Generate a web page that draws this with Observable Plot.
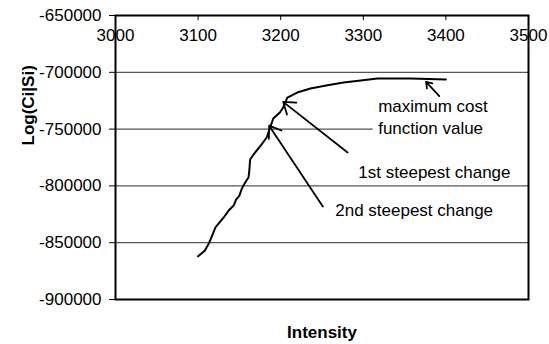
<!DOCTYPE html>
<html>
<head>
<meta charset="utf-8">
<script src="https://cdn.jsdelivr.net/npm/d3@7"></script>
<script src="https://cdn.jsdelivr.net/npm/@observablehq/plot@0.6"></script>
<style>
  html, body { margin: 0; padding: 0; background: #fff; }
  #chart { width: 549px; height: 344px; }
</style>
</head>
<body>
<div id="chart"></div>
<script>
// Cost function trace: intensity vs. log-likelihood
const intensity = [3100, 3108, 3113, 3117, 3121, 3126, 3131, 3137, 3143, 3146,
  3150, 3153, 3157, 3161, 3162, 3163, 3168, 3176, 3183, 3186,
  3191, 3199, 3203, 3208, 3220, 3236, 3255, 3276, 3297, 3317,
  3337, 3357, 3379, 3400];
const logCost = [-862000, -857000, -850700, -843700, -836600, -832200, -827800, -821700, -817300, -812000,
  -808500, -802300, -797000, -792600, -786500, -776800, -771500, -764400, -757400, -751200,
  -740700, -735400, -731000, -722200, -717800, -714300, -711600, -709000, -707200, -705500,
  -705500, -705500, -706000, -706300];

// Axis ticks and gridlines
const xTicks = [3000, 3100, 3200, 3300, 3400, 3500];
const yTicks = [-650000, -700000, -750000, -800000, -850000, -900000];
const gridValues = [-700000, -750000, -800000, -850000];

// Callout text (left edge, vertical centre)
const noteText = ["maximum cost", "function value", "1st steepest change", "2nd steepest change"];
const noteX = [3318, 3318, 3294, 3266];
const noteY = [-730100, -749500, -788200, -821700];

// Callout arrows: tail -> head
const arrowX1 = [3392, 3281, 3251];
const arrowY1 = [-721000, -770600, -818100];
const arrowX2 = [3376, 3203, 3186];
const arrowY2 = [-708500, -726000, -747000];

// White backing of the "maximum cost" text box
const boxX = [3312, 3500];
const boxY = [-719500, -758000];

const curve = intensity.map((x, i) => ({x, y: logCost[i]}));
const notes = noteText.map((t, i) => ({x: noteX[i], y: noteY[i], t}));
const arrows = arrowX1.map((x1, i) => ({x1, y1: arrowY1[i], x2: arrowX2[i], y2: arrowY2[i]}));
const box = [{x1: boxX[0], x2: boxX[1], y1: boxY[0], y2: boxY[1]}];
const innerX = xTicks.slice(1, -1);

const chart = Plot.plot({
  width: 549,
  height: 344,
  marginLeft: 115,
  marginRight: 21,
  marginTop: 15,
  marginBottom: 45,
  x: {domain: [3000, 3500], axis: null},
  y: {domain: [-900000, -650000], axis: null},
  style: {fontFamily: "'Liberation Sans', Arial, sans-serif", fontSize: "17px", background: "#fff", color: "#000"},
  marks: [
    Plot.ruleY(gridValues, {stroke: "#555", strokeWidth: 1.2}),
    Plot.rect(box, {x1: "x1", x2: "x2", y1: "y1", y2: "y2", fill: "#fff"}),
    Plot.line(curve, {x: "x", y: "y", stroke: "#000", strokeWidth: 2}),
    Plot.arrow(arrows, {x1: "x1", y1: "y1", x2: "x2", y2: "y2", stroke: "#000", strokeWidth: 1.8, headLength: 11, headAngle: 70}),
    Plot.text(notes, {x: "x", y: "y", text: "t", textAnchor: "start", lineAnchor: "middle", fill: "#000"}),
    Plot.frame({stroke: "#000", strokeWidth: 2}),
    Plot.axisY({ticks: yTicks, tickSize: 6, tickPadding: 8, tickFormat: d => String(d), label: null}),
    Plot.ruleX(innerX, {y1: -650000, y2: -654500, stroke: "#000"}),
    Plot.text(xTicks, {x: d => d, frameAnchor: "top", dy: 20, text: d => String(d), lineAnchor: "middle", fill: "#000"}),
    Plot.text(["Intensity"], {frameAnchor: "bottom", dy: 33, lineAnchor: "middle", fontWeight: "bold", fill: "#000"}),
    Plot.text(["Log(Ci|Si)"], {frameAnchor: "left", rotate: -90, dx: -87, dy: -12, lineAnchor: "middle", fontWeight: "bold", fill: "#000"})
  ]
});
document.getElementById("chart").appendChild(chart);
</script>
</body>
</html>
